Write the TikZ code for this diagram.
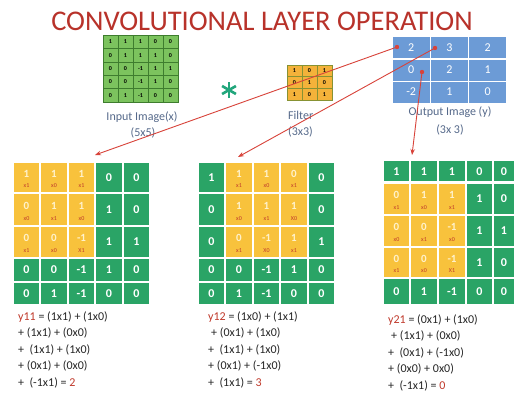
\documentclass[tikz,border=0pt]{standalone}
\usepackage{fontspec}
\setmainfont{Carlito}
\usetikzlibrary{arrows.meta}
\definecolor{titlered}{HTML}{B8322A}
\definecolor{gridgreen}{HTML}{2AA466}
\definecolor{cellyellow}{HTML}{F8C23C}
\definecolor{lightgreen}{HTML}{7CC35E}
\definecolor{darkline}{HTML}{3E7D2E}
\definecolor{filterorange}{HTML}{F4B23A}
\definecolor{outblue}{HTML}{6C9BD6}
\definecolor{labelblue}{HTML}{55698A}
\definecolor{arrowred}{HTML}{D8433A}
\definecolor{starteal}{HTML}{22A67C}
\definecolor{multred}{HTML}{C0392B}
\definecolor{softwhite}{HTML}{FFF2CC}
\definecolor{eqgray}{HTML}{262626}

\newcommand\drawbig[6]{%
  % #1 name, #2 col array, #3 row array, #4 yellow col start, #5 yellow row start, #6 multipliers
  \foreach \row [count=\r from 0] in {{1,1,1,0,0},{0,1,1,1,0},{0,0,-1,1,1},{0,0,-1,1,0},{0,1,-1,0,0}} {
    \foreach \v [count=\c from 0] in \row {
      \pgfmathsetmacro\xa{#2[\c]}
      \pgfmathsetmacro\xb{#2[\c+1]}
      \pgfmathsetmacro\ya{#3[\r]}
      \pgfmathsetmacro\yb{#3[\r+1]}
      \pgfmathtruncatemacro\isy{(\c>=#4)&&(\c<#4+3)&&(\r>=#5)&&(\r<#5+3)}
      \ifnum\isy=1
        \pgfmathtruncatemacro\k{(\r-#5)*3+(\c-#4)}
        \pgfmathsetmacro\m{#6[\k]}
        \filldraw[fill=cellyellow, draw=white, line width=1.1pt] (\xa,\ya) rectangle (\xb,\yb);
        \node[yval] (#1-\r-\c) at ({(\xa+\xb)/2},{\ya+0.38*(\yb-\ya)}) {\v};
        \node[mval] (#1-m-\r-\c) at ({(\xa+\xb)/2},{\ya+0.76*(\yb-\ya)}) {\m};
      \else
        \filldraw[fill=gridgreen, draw=white, line width=1.1pt] (\xa,\ya) rectangle (\xb,\yb);
        \node[gval] (#1-\r-\c) at ({(\xa+\xb)/2},{(\ya+\yb)/2}) {\v};
      \fi
    }
  }
  \pgfmathsetmacro\xl{#2[0]}
  \pgfmathsetmacro\xr{#2[5]}
  \pgfmathsetmacro\yg{#3[1]}
  \draw[white, line width=2.4pt] (\xl,\yg) -- (\xr,\yg);
}

\begin{document}
\begin{tikzpicture}[x=1pt,y=-1pt,
  gval/.style={text=white, font=\bfseries\fontsize{12}{12}\selectfont, inner sep=0pt},
  yval/.style={text=softwhite, font=\bfseries\fontsize{11}{11}\selectfont, inner sep=0pt},
  mval/.style={text=multred, font=\fontsize{6}{6}\selectfont, inner sep=0pt},
  smallval/.style={text=black, font=\bfseries\fontsize{6}{6}\selectfont, inner sep=0pt},
  outval/.style={text=white, font=\fontsize{12}{12}\selectfont, inner sep=0pt},
  lbl/.style={text=labelblue, font=\fontsize{12}{12}\selectfont, inner sep=0pt},
  eq/.style={text=eqgray, font=\fontsize{12}{12}\selectfont, inner sep=0pt, anchor=base west},
  redarrow/.style={draw=arrowred, line width=0.9pt, -{Stealth[length=6pt,width=4.5pt]}},
]
\useasboundingbox (0,0) rectangle (516,396);
\fill[white] (0,0) rectangle (516,396);

% title
\node[text=titlered, font=\fontsize{28.5}{28.5}\selectfont, inner sep=0pt] (title) at (262,21) {CONVOLUTIONAL LAYER OPERATION};

% small input image 5x5
\foreach \row [count=\r from 0] in {{1,1,1,0,0},{0,1,1,1,0},{0,0,-1,1,1},{0,0,-1,1,0},{0,1,-1,0,0}} {
  \foreach \v [count=\c from 0] in \row {
    \filldraw[fill=lightgreen, draw=darkline, line width=0.5pt] ({103+15*\c},{35+13.4*\r}) rectangle ({118+15*\c},{48.4+13.4*\r});
    \node[smallval] (in-\r-\c) at ({110.5+15*\c},{41.7+13.4*\r}) {\v};
  }
}
\node[lbl] (inlbl) at (142,117) {Input Image(x)};
\node[lbl] (insize) at (143,133) {(5x5)};

% asterisk
\node[inner sep=0pt, minimum size=16pt] (star) at (229,90) {};
\foreach \a in {90,30,150} {
  \draw[starteal, line width=2.6pt] (star.center) ++(\a:8) -- ++(\a+180:16);
}

% filter 3x3
\foreach \row [count=\r from 0] in {{1,0,1},{0,1,0},{1,0,1}} {
  \foreach \v [count=\c from 0] in \row {
    \filldraw[fill=filterorange, draw=darkline!60!filterorange, line width=0.5pt] ({287+15*\c},{65+11.7*\r}) rectangle ({302+15*\c},{76.7+11.7*\r});
    \node[smallval] (f-\r-\c) at ({294.5+15*\c},{70.85+11.7*\r}) {\v};
  }
}
\node[lbl, anchor=west] (flbl) at (288,115) {Filter};
\node[lbl, anchor=west] (fsize) at (288,132) {(3x3)};

% output image 3x3
\foreach \row [count=\r from 0] in {{2,3,2},{0,2,1},{-2,1,0}} {
  \foreach \v [count=\c from 0] in \row {
    \filldraw[fill=outblue, draw=white, line width=1pt] ({392+38.3*\c},{37+22*\r}) rectangle ({430.3+38.3*\c},{59+22*\r});
    \node[outval] (out-\r-\c) at ({411.15+38.3*\c},{48+22*\r}) {\v};
  }
}
\draw[white, line width=2.2pt] (392,59) -- (507,59);
\node[lbl] (outlbl) at (450,112) {Output Image (y)};
\node[lbl] (outsize) at (450,130) {(3x 3)};

% big grids
\drawbig{ga}{{13,40,68,95,123,150}}{{162,193,226,258,282,305}}{0}{0}{{"x1","x0","x1","x0","x1","x0","x1","x0","X1"}}
\drawbig{gb}{{198,225,253,280,308,335}}{{162,193,226,258,282,305}}{1}{0}{{"x1","x0","x1","x0","x1","X0","x1","X0","x1"}}
\drawbig{gc}{{383,410,438,466,493,515}}{{160,182.5,215,247,278,305}}{0}{1}{{"x1","x0","x1","x0","x1","x0","x1","x0","X1"}}

% arrows
\coordinate (d1) at (397,47);
\coordinate (d2) at (435,48);
\coordinate (d3) at (422,72);
\coordinate (t1) at (95,155);
\coordinate (t2) at (238,157);
\coordinate (t3) at (412,155);
\draw[redarrow] (d1) -- (t1);
\draw[redarrow] (d2) -- (t2);
\draw[redarrow] (d3) -- (t3);
\foreach \d in {d1,d2,d3} { \fill[arrowred] (\d) circle (2.2); }

% equations
\node[eq] (ea1) at (18,320) {\textcolor{multred}{y11} = (1x1) + (1x0)};
\node[eq] (ea2) at (18,336.5) {+ (1x1) + (0x0)};
\node[eq] (ea3) at (18,353) {+ \ (1x1) + (1x0)};
\node[eq] (ea4) at (18,369.5) {+ (0x1) + (0x0)};
\node[eq] (ea5) at (18,386) {+ \ (-1x1) = \textcolor{multred}{2}};

\node[eq] (eb1) at (208,320) {\textcolor{multred}{y12} = (1x0) + (1x1)};
\node[eq] (eb2) at (211,336.5) {+ (0x1) + (1x0)};
\node[eq] (eb3) at (208,353) {+ \ (1x1) + (1x0)};
\node[eq] (eb4) at (208,369.5) {+ (0x1) + (-1x0)};
\node[eq] (eb5) at (208,386) {+ \ (1x1) = \textcolor{multred}{3}};

\node[eq] (ec1) at (388,323) {\textcolor{multred}{y21} = (0x1) + (1x0)};
\node[eq] (ec2) at (391,339.5) {+ (1x1) + (0x0)};
\node[eq] (ec3) at (388,356) {+ \ (0x1) + (-1x0)};
\node[eq] (ec4) at (388,372.5) {+ (0x0) + 0x0)};
\node[eq] (ec5) at (388,389) {+ \ (-1x1) = \textcolor{multred}{0}};
\end{tikzpicture}
\end{document}
